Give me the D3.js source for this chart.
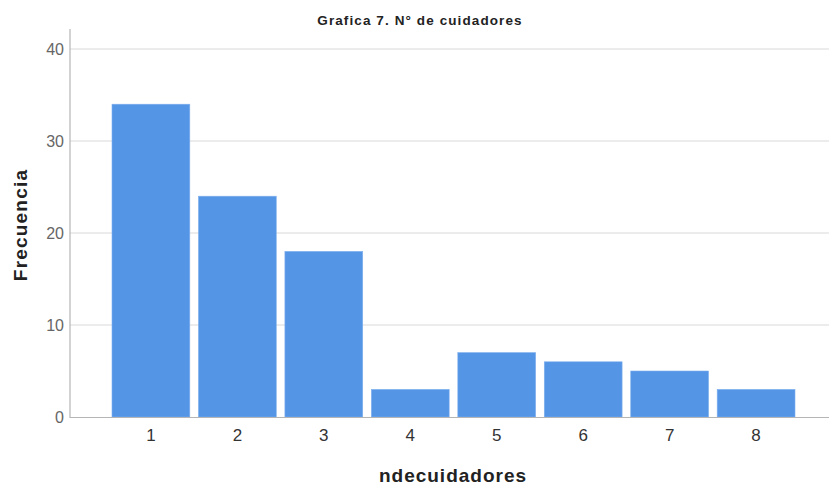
<!DOCTYPE html>
<html><head><meta charset="utf-8">
<script src="https://cdn.jsdelivr.net/npm/d3@7"></script>
<style>body{margin:0;background:#fff;} text{font-family:"Liberation Sans",Arial,sans-serif;}</style>
</head><body>
<svg id="c" width="831" height="485"></svg>
<script>
const categories = ["1","2","3","4","5","6","7","8"];
const values = [34, 24, 18, 3, 7, 6, 5, 3];
const yTicks = [0, 10, 20, 30, 40];
const title = "Grafica 7. N° de cuidadores";
const xTitle = "ndecuidadores";
const yTitle = "Frecuencia";

const svg = d3.select("#c");
const x = d3.scaleBand().domain(categories).range([112, 795]).paddingInner(0.1).paddingOuter(0);
const y = d3.scaleLinear().domain([0, 40]).range([417, 49]);

// gridlines
svg.append("g").selectAll("line").data(yTicks.filter(d => d > 0)).join("line")
  .attr("x1", 70).attr("x2", 829).attr("y1", d => y(d)).attr("y2", d => y(d))
  .attr("stroke", "#d9d9d9").attr("stroke-width", 1.2);

// bars
svg.append("g").selectAll("rect").data(values).join("rect")
  .attr("x", (d, i) => x(categories[i])).attr("width", x.bandwidth())
  .attr("y", d => y(d)).attr("height", d => y(0) - y(d))
  .attr("fill", "#5595e5").attr("stroke", "#7fb0ee").attr("stroke-width", 0.6);

// y axis
const ya = svg.append("g").attr("transform", "translate(70,0)")
  .call(d3.axisLeft(y).tickValues(yTicks).tickSize(0).tickPadding(6));
ya.select(".domain").remove();
ya.selectAll("text").attr("font-size", 16).attr("fill", "#666").attr("font-family", "Liberation Sans, Arial, sans-serif");
svg.append("line").attr("x1", 70).attr("x2", 70).attr("y1", 29).attr("y2", 418)
  .attr("stroke", "#b5b5b5").attr("stroke-width", 1.2);

// x axis
const xa = svg.append("g").attr("transform", "translate(0,417)")
  .call(d3.axisBottom(x).tickSize(0).tickPadding(12));
xa.select(".domain").remove();
xa.selectAll("text").attr("font-size", 17).attr("fill", "#333").attr("font-family", "Liberation Sans, Arial, sans-serif");
svg.append("line").attr("x1", 70).attr("x2", 829).attr("y1", 417.5).attr("y2", 417.5)
  .attr("stroke", "#b5b5b5").attr("stroke-width", 1.2);

// titles
svg.append("text").attr("x", 420).attr("y", 25).attr("text-anchor", "middle")
  .attr("font-size", 13.5).attr("letter-spacing", 1.1).attr("font-weight", "bold").attr("fill", "#222").text(title);
svg.append("text").attr("x", 453).attr("y", 482).attr("text-anchor", "middle")
  .attr("font-size", 19).attr("letter-spacing", 1).attr("font-weight", "bold").attr("fill", "#222").text(xTitle);
svg.append("text").attr("transform", "translate(27,225) rotate(-90)").attr("text-anchor", "middle")
  .attr("font-size", 19).attr("letter-spacing", 1.2).attr("font-weight", "bold").attr("fill", "#222").text(yTitle);
</script>
</body></html>
